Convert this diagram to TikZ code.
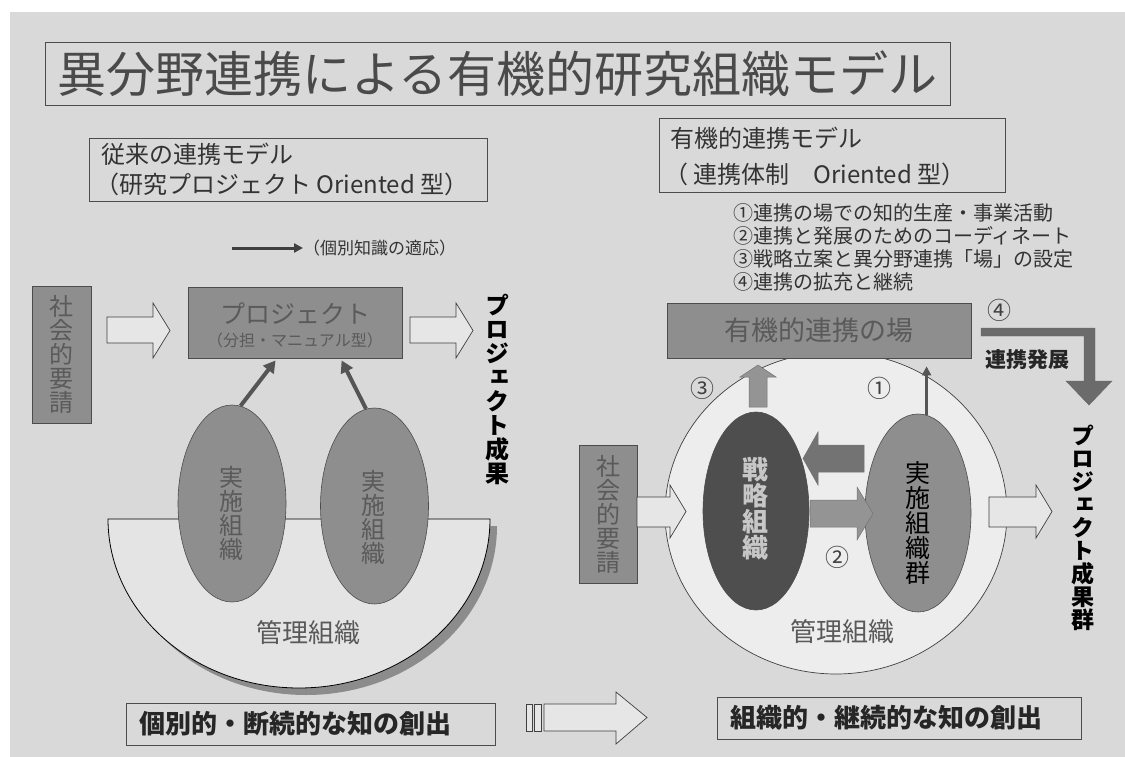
\documentclass[tikz,border=0pt]{standalone}
\usepackage{fontspec}
\setmainfont{Noto Sans CJK JP}
\newfontfamily\vfont[RawFeature=+vert]{Noto Sans CJK JP}
\usetikzlibrary{shapes.geometric,arrows.meta,calc}
\definecolor{bg}{HTML}{D9D9D9}
\definecolor{boxgray}{HTML}{8E8E8E}
\definecolor{boxtext}{HTML}{5A5A5A}
\definecolor{bowlfill}{HTML}{E4E4E4}
\definecolor{circfill}{HTML}{EDEDED}
\definecolor{hollowfill}{HTML}{E6E6E6}
\definecolor{strat}{HTML}{4E4E4E}
\definecolor{arrowgray}{HTML}{555555}
\definecolor{titlegray}{HTML}{4A4A4A}
\begin{document}
\begin{tikzpicture}[x=1pt,y=-1pt,
  frame/.style={draw=black!70, line width=0.8pt, inner sep=0pt},
  darkbox/.style={frame, fill=boxgray},
  hollow/.style={draw=black!75, fill=hollowfill, line width=0.7pt, line join=miter},
  blockarr/.style={draw=black!55, line width=0.5pt, line join=miter},
  vtext/.style={align=center, inner sep=0pt},
  fs/.style={font=\fontsize{#1}{#1}\selectfont},
  fsb/.style={font=\fontsize{#1}{#1}\selectfont\bfseries},
  vfs/.style={font=\vfont\fontsize{#1}{#1}\selectfont},
  vfsb/.style={font=\vfont\fontsize{#1}{#1}\selectfont\bfseries},
  thinarrow/.style={draw=arrowgray, line width=4pt, -{Triangle[length=12pt,width=13pt]}},
  num/.style={fs=24, text=black!75, inner sep=0pt},
]
\useasboundingbox (0,0) rectangle (1125,757);
\fill[white] (0,0) rectangle (1125,757);
\fill[bg] (10,12) rectangle (1125,757);

% ---------- title ----------
\node[frame, minimum width=905, minimum height=63] (title) at (497.5,74) {};
\node[fs=49, text=titlegray, inner sep=0pt] (titleT) at (title.center) {異分野連携による有機的研究組織モデル};

% ---------- left subtitle ----------
\node[frame, minimum width=398, minimum height=63] (lsub) at (288,169.5) {};
\node[anchor=west, fs=24, text=black!80, inner sep=0pt] (lsub1) at (101,154) {従来の連携モデル};
\node[anchor=west, fs=24, text=black!80, inner sep=0pt] (lsub2) at (95,184) {（研究プロジェクト Oriented 型）};

% legend arrow
\coordinate (lgA) at (232,248);
\node[anchor=west, fs=17, text=black!80, inner sep=0pt] (lgT) at (303,248) {（個別知識の適応）};
\draw[draw=black!75, line width=3pt, -{Triangle[length=9pt,width=9pt]}] (lgA) -- (lgT.west);

% ---------- left diagram ----------
\node[darkbox, minimum width=59, minimum height=137, vtext, vfs=24, text=boxtext] (soc1) at (61.5,354.5) {社\\会\\的\\要\\請};

\path[hollow] (107,317) -- (153,317) -- (153,303) -- (170,330.5) -- (153,358) -- (153,343) -- (107,343) -- cycle;
\node[darkbox, minimum width=214, minimum height=71] (proj) at (295,322.5) {};
\node[fs=25, text=boxtext, inner sep=0pt] (projT) at (295,314) {プロジェクト};
\node[fs=16, text=boxtext, inner sep=0pt] (projS) at (295,340) {（分担・マニュアル型）};
\path[hollow] (410,317) -- (456,317) -- (456,303) -- (473,330.5) -- (456,358) -- (456,343) -- (410,343) -- cycle;

\node[vtext, vfsb=24, text=black] (res1) at (497,389) {プ\\ロ\\ジ\\ェ\\ク\\ト\\成\\果};

% bowl
\fill[black!45] (497,526) -- (115,526) arc[start angle=180, end angle=0, x radius=191, y radius=169] -- cycle;
\filldraw[fill=bowlfill, draw=black, line width=0.8pt] (490,519) arc[start angle=0, end angle=180, x radius=191, y radius=169] -- cycle;
\node[fs=26, text=black!65, inner sep=0pt] (mg1) at (308,633) {管理組織};

\node[ellipse, draw=black!70, line width=0.6pt, fill=boxgray, minimum width=108, minimum height=197, inner sep=0pt] (e1) at (232,503.5) {};
\node[vtext, vfs=24, text=boxtext] (e1t) at (231,513) {実\\施\\組\\織};
\node[ellipse, draw=black!70, line width=0.6pt, fill=boxgray, minimum width=108, minimum height=196, inner sep=0pt] (e2) at (374.5,506) {};
\node[vtext, vfs=24, text=boxtext] (e2t) at (373,517) {実\\施\\組\\織};

\draw[thinarrow] (e1.85) -- ($(proj.south west)+(88,2)$);
\draw[thinarrow] (e2.95) -- ($(proj.south west)+(154,2)$);

% ---------- right subtitle ----------
\node[frame, minimum width=346, minimum height=74] (rsub) at (832,155) {};
\node[anchor=west, fs=24, text=black!80, inner sep=0pt] (rsub1) at (670,138) {有機的連携モデル};
\node[anchor=west, fs=24, text=black!80, inner sep=0pt] (rsub2) at (664,174) {（ 連携体制　Oriented 型）};

\node[anchor=west, fs=20, text=black!80, inner sep=0pt] (l1) at (733,213) {①連携の場での知的生産・事業活動};
\node[anchor=west, fs=20, text=black!80, inner sep=0pt] (l2) at (733,236) {②連携と発展のためのコーディネート};
\node[anchor=west, fs=20, text=black!80, inner sep=0pt] (l3) at (733,259) {③戦略立案と異分野連携「場」の設定};
\node[anchor=west, fs=20, text=black!80, inner sep=0pt] (l4) at (733,282) {④連携の拡充と継続};

% ---------- right diagram ----------
\node[ellipse, draw=black!75, line width=0.7pt, fill=circfill, minimum width=342, minimum height=322, inner sep=0pt] (circ) at (836,513) {};
\node[fs=26, text=black!65, inner sep=0pt] (mg2) at (842,632) {管理組織};

\node[darkbox, minimum width=304, minimum height=55, fs=27, text=boxtext] (field) at (819,330.5) {有機的連携の場};

\node[num] (n4) at (999,310) {④};
\path[fill=black!58, draw=black!60, line width=0.4pt, line join=miter] (981,328) -- (1095,328) -- (1095,381) -- (1112,381) -- (1089,405) -- (1066,381) -- (1084,381) -- (1084,336) -- (981,336) -- cycle;
\node[fsb=21, text=black!85, inner sep=0pt] (dev) at (1027,360) {連携発展};

\node[darkbox, minimum width=58, minimum height=138, vtext, vfs=24, text=boxtext] (soc2) at (608,514) {社\\会\\的\\要\\請};
\path[hollow] (637,497) -- (670,497) -- (670,485) -- (686,511.5) -- (670,538) -- (670,527) -- (637,527) -- cycle;

\node[ellipse, draw=black!70, line width=0.6pt, fill=strat, minimum width=106, minimum height=198, inner sep=0pt] (se) at (756,511) {};
\node[vtext, vfsb=26, text=black!22] (set) at (755,509) {戦\\略\\組\\織};
\node[ellipse, draw=black!70, line width=0.6pt, fill=boxgray, minimum width=106, minimum height=198, inner sep=0pt] (ie) at (918,513) {};
\node[vtext, vfs=25, text=black] (iet) at (918,523) {実\\施\\組\\織\\群};

\path[blockarr, fill=black!55] (864,445) -- (818,445) -- (818,432) -- (803,458.5) -- (818,485) -- (818,472) -- (864,472) -- cycle;
\path[blockarr, fill=black!42] (810,500) -- (857,500) -- (857,487) -- (873,513.5) -- (857,540) -- (857,527) -- (810,527) -- cycle;
\path[blockarr, fill=black!42] (749,407) -- (749,377) -- (740,377) -- (758,365) -- (776,377) -- (767,377) -- (767,407) -- cycle;
\draw[draw=arrowgray, line width=3pt, -{Triangle[length=9pt,width=9pt]}, shorten >=8pt] (ie.85) -- (ie.85 |- field.south);

\node[num] (n3) at (702,388) {③};
\node[num] (n1) at (879,388) {①};
\node[num] (n2) at (837,557) {②};

\path[hollow] (989,497) -- (1036,497) -- (1036,485) -- (1052,511.5) -- (1036,538) -- (1036,527) -- (989,527) -- cycle;
\node[vtext, vfsb=23, text=black] (res2) at (1083,528) {プ\\ロ\\ジ\\ェ\\ク\\ト\\成\\果\\群};

% ---------- bottom ----------
\node[frame, minimum width=369, minimum height=42] (bl) at (310.5,724) {};
\node[anchor=west, fsb=26, text=black!85, inner sep=0pt] (blt) at (139,724) {個別的・断続的な知の創出};
\path[hollow] (526,704) rectangle (532,731);
\path[hollow] (534,704) rectangle (541,731);
\path[hollow] (544,704) -- (616,704) -- (616,692) -- (647,717.5) -- (616,744) -- (616,731) -- (544,731) -- cycle;
\node[frame, minimum width=364, minimum height=42] (br) at (899,718) {};
\node[anchor=west, fsb=26, text=black!85, inner sep=0pt] (brt) at (730,718) {組織的・継続的な知の創出};
\end{tikzpicture}
\end{document}
